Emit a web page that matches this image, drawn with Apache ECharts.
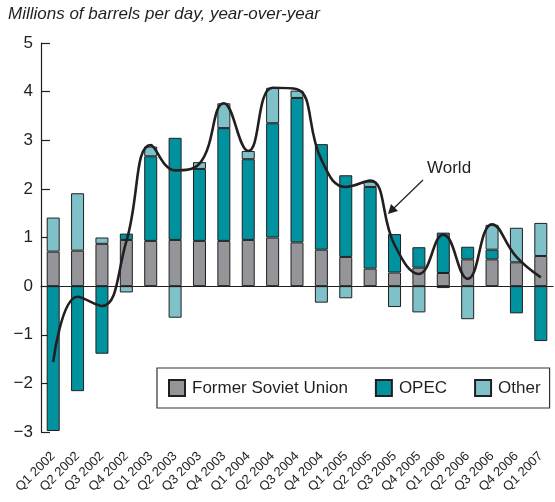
<!DOCTYPE html>
<html>
<head>
<meta charset="utf-8">
<script src="https://cdn.jsdelivr.net/npm/echarts@6/dist/echarts.min.js"></script>
<style>
html, body { margin: 0; padding: 0; background: #fff; }
#chart { width: 555px; height: 502px; }
</style>
</head>
<body>
<div id="chart"></div>
<script>
// data
var quarters = ['Q1 2002', 'Q2 2002', 'Q3 2002', 'Q4 2002', 'Q1 2003', 'Q2 2003', 'Q3 2003',
	'Q4 2003', 'Q1 2004', 'Q2 2004', 'Q3 2004', 'Q4 2004', 'Q1 2005', 'Q2 2005', 'Q3 2005',
	'Q4 2005', 'Q1 2006', 'Q2 2006', 'Q3 2006', 'Q4 2006', 'Q1 2007'];
var fsu = [0.71, 0.73, 0.87, 0.95, 0.93, 0.95, 0.93, 0.93, 0.95, 1.00, 0.90,
	0.75, 0.60, 0.36, 0.28, 0.38, 0.27, 0.55, 0.55, 0.49, 0.62];
var opec = [-2.98, -2.16, -1.39, 0.13, 1.74, 2.10, 1.48, 2.32, 1.66, 2.35, 2.97,
	2.17, 1.68, 1.68, 0.79, 0.42, 0.83, 0.26, 0.20, -0.56, -1.13];
var other = [0.70, 1.18, 0.13, -0.13, 0.20, -0.65, 0.14, 0.51, 0.17, 0.73, 0.15,
	-0.34, -0.25, 0.11, -0.43, -0.54, -0.04, -0.68, 0.51, 0.71, 0.68];
var world = [-1.56, -0.22, -0.41, 0.92, 2.90, 2.38, 2.52, 3.76, 2.78, 4.08, 4.05,
	2.60, 2.04, 2.17, 0.85, 0.25, 1.06, 0.15, 1.27, 0.60, 0.18];

var font = '"Liberation Sans", Arial, Helvetica, sans-serif';
var ink = '#231f20';

function barSeries(name, data, color) {
	return {
		name : name,
		type : 'bar',
		stack : 'prod',
		barWidth : 13,
		data : data,
		itemStyle : {
			color : color,
			borderColor : ink,
			borderWidth : 1
		}
	};
}

var myChart = echarts.init(document.getElementById('chart'));

var fsuSeries = barSeries('Former Soviet Union', fsu, '#939598');
// zero line
fsuSeries.markLine = {
	silent : true,
	symbol : 'none',
	label : { show : false },
	lineStyle : { color : ink, width : 1, type : 'solid' },
	data : [ { yAxis : 0 } ]
};

var option = {
	animation : false,
	backgroundColor : '#fff',
	textStyle : { fontFamily : font },
	grid : {
		left : 41,
		right : 2,
		top : 43,
		bottom : 70
	},
	legend : {
		data : [ 'Former Soviet Union', 'OPEC', 'Other' ],
		icon : 'rect',
		left : 157,
		top : 368,
		padding : [ 11, 9, 11, 11 ],
		itemWidth : 16,
		itemHeight : 16,
		itemGap : 27,
		borderColor : '#333',
		borderWidth : 1.2,
		backgroundColor : '#fff',
		textStyle : { fontSize : 17, color : ink, fontFamily : font, padding : [ 0, 0, 0, 2 ] }
	},
	xAxis : [ {
		type : 'category',
		data : quarters,
		axisLine : { lineStyle : { color : ink, width : 1.2 } },
		axisTick : { length : 8, lineStyle : { color : ink, width : 1.2 } },
		axisLabel : {
			rotate : 45,
			interval : 0,
			margin : 22,
			fontSize : 13,
			color : ink,
			fontFamily : font
		}
	}, {
		// ticks above the axis line too
		type : 'category',
		position : 'bottom',
		data : quarters,
		axisLine : { show : false },
		axisTick : { inside : true, length : 9, lineStyle : { color : ink, width : 1.2 } },
		axisLabel : { show : false }
	} ],
	yAxis : {
		type : 'value',
		min : -3,
		max : 5,
		interval : 1,
		splitLine : { show : false },
		axisLine : { show : true, lineStyle : { color : ink, width : 1.2 } },
		axisTick : { show : true, inside : true, length : 9, lineStyle : { color : ink, width : 1.2 } },
		axisLabel : {
			margin : 8,
			fontSize : 17,
			color : ink,
			fontFamily : font,
			formatter : function(v) {
				return String(v).replace('-', '\u2212');
			}
		}
	},
	series : [
		fsuSeries,
		barSeries('OPEC', opec, '#00929f'),
		barSeries('Other', other, '#7fc1c8'),
		{
			name : 'World',
			type : 'line',
			data : world,
			smooth : 0.45,
			symbol : 'none',
			z : 5,
			lineStyle : { color : ink, width : 2.6 }
		}
	],
	graphic : [ {
		type : 'text',
		left : 8,
		top : 6,
		style : {
			text : 'Millions of barrels per day, year-over-year',
			font : 'italic 17px ' + font,
			fill : ink
		}
	}, {
		type : 'text',
		left : 427,
		top : 160,
		style : { text : 'World', font : '17px ' + font, fill : ink }
	}, {
		type : 'line',
		shape : { x1 : 423, y1 : 180, x2 : 393, y2 : 209 },
		style : { stroke : ink, lineWidth : 1.2 }
	}, {
		type : 'polygon',
		shape : { points : [ [ 388, 214 ], [ 391, 204 ], [ 398, 211 ] ] },
		style : { fill : ink }
	} ]
};

myChart.setOption(option);
</script>
</body>
</html>
